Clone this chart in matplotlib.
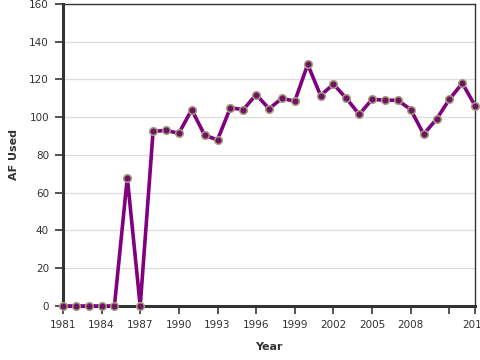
import numpy as np
import matplotlib
matplotlib.use("Agg")
import matplotlib.pyplot as plt


YEARS = list(range(1981, 2014))
AF_USED = [0, 0, 0, 0, 0, 68, 0, 92.5, 93, 91.5,
           104, 90.5, 88, 105, 104, 112, 104.5, 110, 108.5, 128,
           111.5, 117.5, 110, 101.5, 109.5, 109, 109, 104, 91, 99,
           109.5, 118, 106]

XTICKS = list(range(1981, 2012, 3)) + [2013]
XTICK_LABELS = [str(t) if t != 2011 else "" for t in XTICKS]
YTICKS = list(range(0, 161, 20))

DARK = "#333333"


def main():
    fig = plt.figure(figsize=(4.8, 3.6), dpi=100)
    ax = fig.add_axes([0.131, 0.15, 0.859, 0.839])

    ax.set_xlim(1981, 2013)
    ax.set_ylim(0, 160)

    for t in YTICKS:
        ax.axhline(t, color="#dddddd", lw=0.9, zorder=0)

    ax.plot(YEARS, AF_USED, color="#800080", lw=2.6, zorder=3, clip_on=False)
    ax.plot(YEARS, AF_USED, ls="none", marker="o", ms=5.5,
            markerfacecolor="#6e1464", markeredgecolor="#a8a07c",
            markeredgewidth=1.1, zorder=4, clip_on=False)

    ax.set_xticks(XTICKS)
    ax.set_xticklabels(XTICK_LABELS)
    ax.set_yticks(YTICKS)
    ax.tick_params(axis="both", direction="out", length=6, width=1.2,
                   colors=DARK, labelsize=7.5, pad=4)

    for side in ["left", "bottom"]:
        ax.spines[side].set_linewidth(2.2)
        ax.spines[side].set_color(DARK)
    for side in ["top", "right"]:
        ax.spines[side].set_linewidth(1.0)
        ax.spines[side].set_color(DARK)

    ax.set_xlabel("Year", fontsize=8, fontweight="bold", color=DARK)
    ax.set_ylabel("AF Used", fontsize=8, fontweight="bold", color=DARK)
    ax.xaxis.set_label_coords(0.5, -0.118, transform=ax.transAxes)
    ax.yaxis.set_label_coords(-0.107, 0.5, transform=ax.transAxes)

    fig.savefig("out.png", dpi=100)
    plt.close(fig)


if __name__ == "__main__":
    main()
